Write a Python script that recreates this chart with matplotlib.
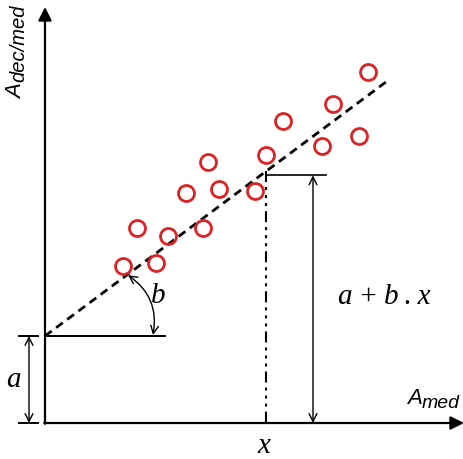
import numpy as np
import matplotlib.pyplot as plt

# observed points (x = A_med, y = A_dec/med), origin at the axes corner
x_pts = [78, 111, 92, 123, 158, 141, 174, 163, 210, 221, 238, 277, 288, 314, 323]
y_pts = [157, 160, 195, 187, 195, 230, 234, 261, 232, 268, 302, 277, 319, 287, 351]

# fitted line a + b.x
a = 87
b = 0.745
x_end = 343
x0 = 221

sans = "Liberation Sans"
serif = "Liberation Serif"

fig = plt.figure(figsize=(4.64, 4.6), dpi=100)
ax = fig.add_axes([0, 0, 1, 1])
ax.set_xlim(-45, 419)
ax.set_ylim(-36, 424)
ax.axis("off")

# axes with arrows
arr = dict(arrowstyle="-|>", lw=1.6, color="k", mutation_scale=20, shrinkA=0, shrinkB=0)
ax.annotate("", xy=(0, 416), xytext=(0, -0.8), arrowprops=arr)
ax.annotate("", xy=(419, 0), xytext=(-0.8, 0), arrowprops=arr)

# regression line
xs = np.array([0, x_end])
ax.plot(xs, a + b * xs, color="k", lw=2.0, ls=(0, (3.0, 2.0)))

# points
ax.plot(x_pts, y_pts, "o", ms=11.5, mfc="none", mec="#dc2222", mew=2)

# intercept a
ax.plot([0, 120], [a, a], color="k", lw=1.4)
ax.plot([-26, -7], [a, a], color="k", lw=1.4)
ax.plot([-26, -7], [0, 0], color="k", lw=1.4)
dbl = dict(arrowstyle="<->", lw=1.0, color="k", mutation_scale=14, shrinkA=0, shrinkB=0)
ax.annotate("", xy=(-16, a), xytext=(-16, 0), arrowprops=dbl)
ax.text(-32, a / 2, "a", family=serif, style="italic", fontsize=21, ha="center", va="center")

# slope angle b
ax.annotate("", xy=(83, a + b * 83 - 1), xytext=(108, a + 1),
            arrowprops=dict(dbl, connectionstyle="arc3,rad=0.32"))
ax.text(113, 128, "b", family=serif, style="italic", fontsize=21, ha="center", va="center")

# value at x0
y0 = a + b * x0
ax.plot([x0, x0], [y0, -4], color="k", lw=1.5,
        ls=(0, (5.3, 2.4, 1.45, 2.4, 1.45, 2.4, 1.45, 2.4)))
ax.plot([x0, x0 + 60], [y0 - 4, y0 - 4], color="k", lw=1.2)
ax.annotate("", xy=(268, y0 - 4), xytext=(268, 0), arrowprops=dbl)
ax.text(339, 127, "a\u2009+\u2009b\u2009.\u2009x", family=serif, style="italic", fontsize=21,
        ha="center", va="center")
ax.text(219, -22, "x", family=serif, style="italic", fontsize=21, ha="center", va="center")

# axis labels
ax.text(362, 20, "A", family=sans, style="italic", fontsize=16, ha="left", va="baseline")
ax.text(377, 16, "med", family=sans, style="italic", fontsize=14, ha="left", va="baseline")
ax.text(-23, 325, "A", family=sans, style="italic", fontsize=16, rotation=90,
        rotation_mode="anchor", ha="left", va="baseline")
ax.text(-21, 342, "dec/med", family=sans, style="italic", fontsize=14.5, rotation=90,
        rotation_mode="anchor", ha="left", va="baseline")

fig.savefig("out.png", dpi=100)
